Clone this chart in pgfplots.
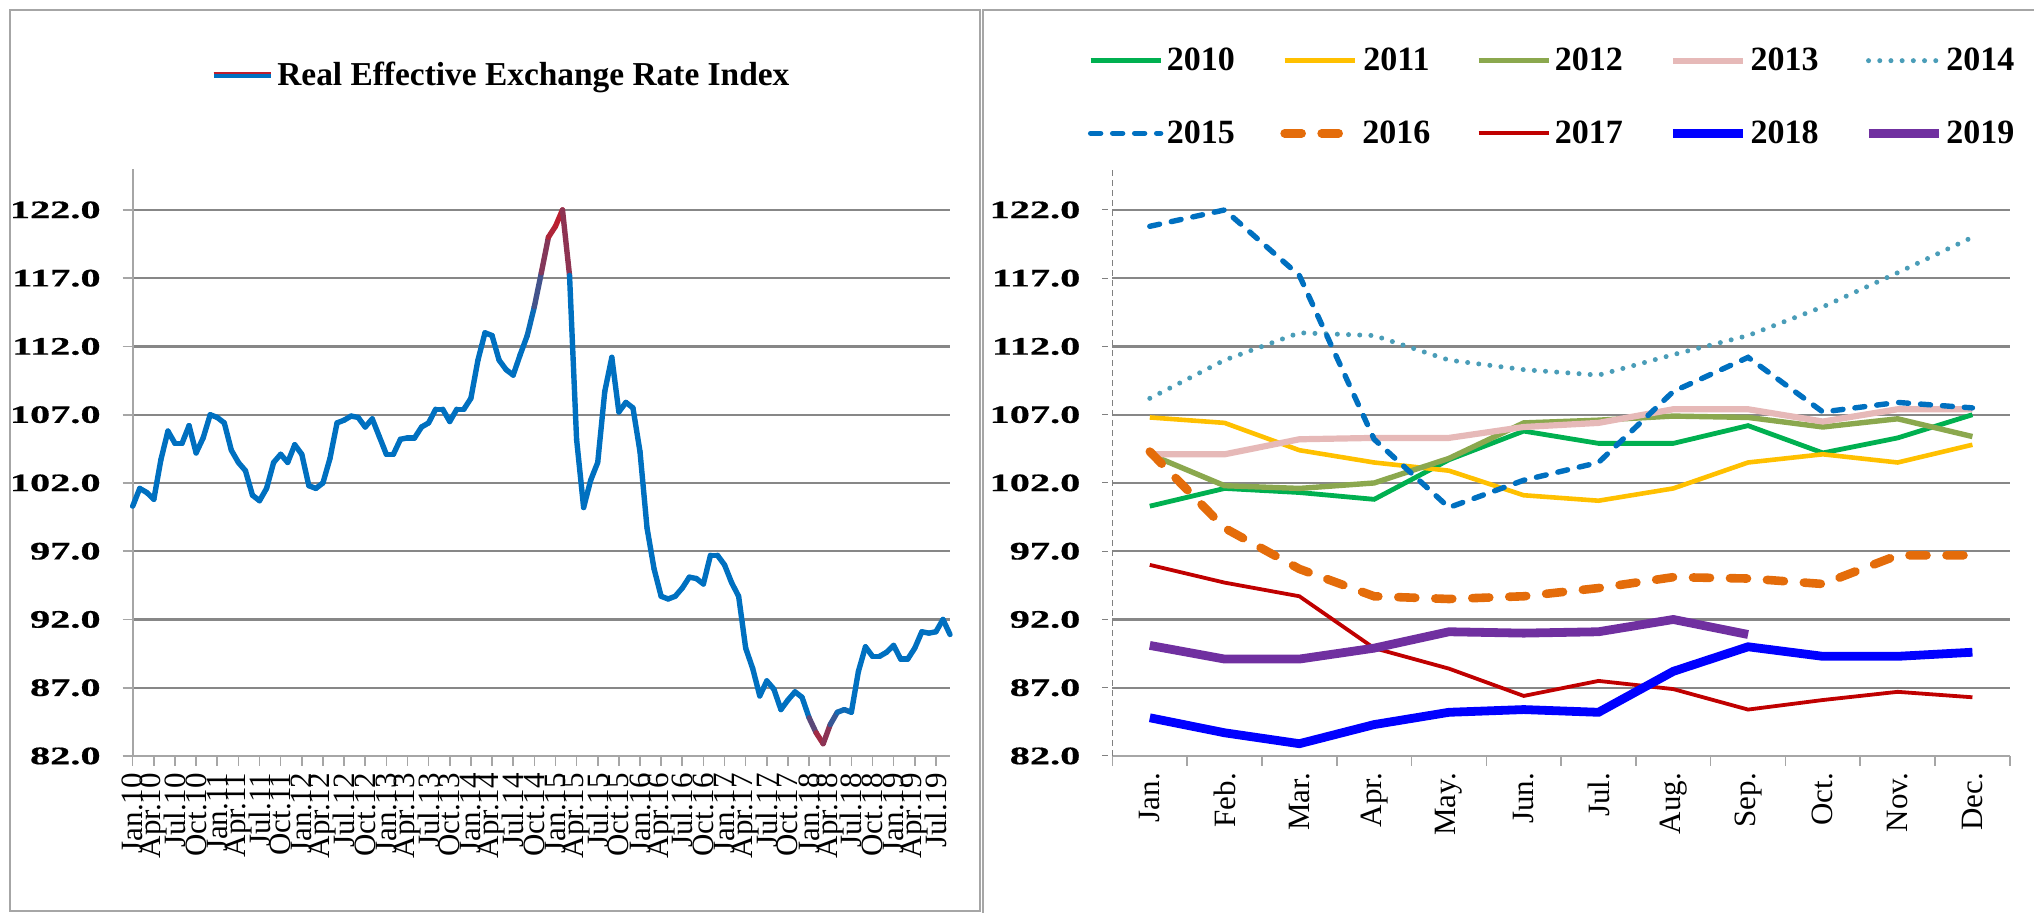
\documentclass[border=0pt]{standalone}
\usepackage{fontspec}
\setmainfont{Liberation Serif}
\newfontfamily\ytfont[FakeStretch=1.6,FakeBold=0.6]{Liberation Serif}
\usepackage{pgfplots}
\pgfplotsset{compat=1.18}
\usepackage{pgfplotstable}

\definecolor{c2010}{HTML}{00B050}
\definecolor{c2011}{HTML}{FFC000}
\definecolor{c2012}{HTML}{8BA84E}
\definecolor{c2013}{HTML}{E6B9B8}
\definecolor{c2014}{HTML}{4A9DB8}
\definecolor{c2015}{HTML}{0070C0}
\definecolor{c2016}{HTML}{E46C0A}
\definecolor{c2017}{HTML}{C00000}
\definecolor{c2018}{HTML}{0000FF}
\definecolor{c2019}{HTML}{7030A0}
\definecolor{cred}{RGB}{190,30,45}
\definecolor{frame}{HTML}{A6A6A6}
\definecolor{gridc}{HTML}{878787}

\pgfplotstableread{
m y10 y11 y12 y13 y14 y15 y16 y17 y18 y19
1 100.3 106.8 104.1 104.1 108.2 120.8 104.3 96.0 84.8 90.1
2 101.6 106.4 101.8 104.1 111.0 122.0 98.7 94.7 83.7 89.1
3 101.3 104.4 101.6 105.2 113.0 117.2 95.7 93.7 82.9 89.1
4 100.8 103.5 102.0 105.3 112.8 105.2 93.7 89.9 84.3 89.9
5 103.7 102.9 103.8 105.3 111.0 100.2 93.5 88.4 85.2 91.1
6 105.8 101.1 106.4 106.1 110.3 102.2 93.7 86.4 85.4 91.0
7 104.9 100.7 106.6 106.4 109.9 103.5 94.3 87.5 85.2 91.1
8 104.9 101.6 106.9 107.4 111.4 108.7 95.1 86.9 88.2 92.0
9 106.2 103.5 106.8 107.4 112.8 111.2 95.0 85.4 90.0 90.9
10 104.2 104.1 106.1 106.5 114.9 107.2 94.6 86.1 89.3 nan
11 105.3 103.5 106.7 107.4 117.4 107.9 96.7 86.7 89.3 nan
12 107.0 104.8 105.4 107.4 120.0 107.5 96.7 86.3 89.6 nan
}\monthly

\pgfplotsset{
  reerbase/.style={
    scale only axis, height=293.5pt,
    ymin=82, ymax=125,
    axis lines=left,
    axis line style={-, draw=frame, line width=0.9pt},
    ytick={82,87,...,122},
    yticklabels={82.0,87.0,92.0,97.0,102.0,107.0,112.0,117.0,122.0},
    yticklabel style={font=\ytfont\bfseries\fontsize{12.6}{14}\selectfont, xshift=-7.5pt},
    ymajorgrids,
    grid style={draw=gridc, line width=1.1pt},
    tick align=outside,
    major tick length=5pt,
    minor tick length=5pt,
    tick style={draw=frame, line width=0.8pt},
    xticklabel style={rotate=90, anchor=east, font=\fontsize{15.5}{15.5}\selectfont},
    clip=false,
  }
}

\begin{document}
\begin{tikzpicture}
\useasboundingbox (0pt,0pt) rectangle (1017pt,456.5pt);
\draw[frame, line width=1pt] (5pt,1pt) rectangle (490pt,451.5pt);
\draw[frame, line width=1pt] (491.5pt,-2pt) -- (491.5pt,451.5pt) -- (1020pt,451.5pt);

% ---------------- left panel ----------------
\begin{axis}[reerbase,
  at={(66.35pt,78.5pt)}, anchor=south west,
  width=408.65pt,
  xmin=0, xmax=116,
  xtick={0,3,...,114},
  xticklabels={Jan.10,Apr.10,Jul.10,Oct.10,Jan.11,Apr.11,Jul.11,Oct.11,Jan.12,Apr.12,Jul.12,Oct.12,Jan.13,Apr.13,Jul.13,Oct.13,Jan.14,Apr.14,Jul.14,Oct.14,Jan.15,Apr.15,Jul.15,Oct.15,Jan.16,Apr.16,Jul.16,Oct.16,Jan.17,Apr.17,Jul.17,Oct.17,Jan.18,Apr.18,Jul.18,Oct.18,Jan.19,Apr.19,Jul.19},
  colormap={reer}{rgb255(0cm)=(190,30,45) rgb255(2.6cm)=(0,112,192) rgb255(30.6cm)=(0,112,192) rgb255(38.1cm)=(190,30,45)},
  point meta min=82.9, point meta max=121,
  legend style={at={(axis description cs:0.0946,1.16)}, anchor=west, draw=none, fill=none,
    font=\bfseries\fontsize{16.7}{20}\selectfont, inner sep=0pt, nodes={inner sep=1.75pt}},
]
\addplot[mesh, point meta=y, line width=2.7pt, line cap=round, forget plot] coordinates {
(0,100.3)(1,101.6)(2,101.3)(3,100.8)(4,103.7)(5,105.8)(6,104.9)(7,104.9)(8,106.2)(9,104.2)(10,105.3)(11,107.0)
(12,106.8)(13,106.4)(14,104.4)(15,103.5)(16,102.9)(17,101.1)(18,100.7)(19,101.6)(20,103.5)(21,104.1)(22,103.5)(23,104.8)
(24,104.1)(25,101.8)(26,101.6)(27,102.0)(28,103.8)(29,106.4)(30,106.6)(31,106.9)(32,106.8)(33,106.1)(34,106.7)(35,105.4)
(36,104.1)(37,104.1)(38,105.2)(39,105.3)(40,105.3)(41,106.1)(42,106.4)(43,107.4)(44,107.4)(45,106.5)(46,107.4)(47,107.4)
(48,108.2)(49,111.0)(50,113.0)(51,112.8)(52,111.0)(53,110.3)(54,109.9)(55,111.4)(56,112.8)(57,114.9)(58,117.4)(59,120.0)
(60,120.8)(61,122.0)(62,117.2)(63,105.2)(64,100.2)(65,102.2)(66,103.5)(67,108.7)(68,111.2)(69,107.2)(70,107.9)(71,107.5)
(72,104.3)(73,98.7)(74,95.7)(75,93.7)(76,93.5)(77,93.7)(78,94.3)(79,95.1)(80,95.0)(81,94.6)(82,96.7)(83,96.7)
(84,96.0)(85,94.7)(86,93.7)(87,89.9)(88,88.4)(89,86.4)(90,87.5)(91,86.9)(92,85.4)(93,86.1)(94,86.7)(95,86.3)
(96,84.8)(97,83.7)(98,82.9)(99,84.3)(100,85.2)(101,85.4)(102,85.2)(103,88.2)(104,90.0)(105,89.3)(106,89.3)(107,89.6)
(108,90.1)(109,89.1)(110,89.1)(111,89.9)(112,91.1)(113,91.0)(114,91.1)(115,92.0)(116,90.9)
};
\addlegendimage{legend image code/.code={
  \draw[line width=3.2pt, c2015] (0pt,0pt) -- (28.5pt,0pt);
  \draw[line width=1.1pt, cred] (0pt,1.1pt) -- (28.5pt,1.1pt);}}
\addlegendentry{Real Effective Exchange Rate Index}
\end{axis}

% ---------------- right panel ----------------
\begin{axis}[reerbase,
  at={(556.2pt,78.5pt)}, anchor=south west,
  width=448.7pt,
  xmin=0.5, xmax=12.5,
  xtick={1,...,12},
  xticklabels={Jan.,Feb.,Mar.,Apr.,May.,Jun.,Jul.,Aug.,Sep.,Oct.,Nov.,Dec.},
  major x tick style={draw=none},
  minor xtick={0.5,1.5,...,12.5},
  y axis line style={densely dashed, draw=gray, line width=0.5pt},
  ytick style={densely dashed, draw=gray, line width=0.5pt},
  legend columns=5,
  legend image code/.code={\draw[#1] (0pt,0pt) -- (35pt,0pt);},
  legend style={at={(axis description cs:-0.0277,1.1227)}, anchor=west, draw=none, fill=none,
    font=\bfseries\fontsize{17}{20}\selectfont, inner sep=0pt, row sep=20pt,
    nodes={inner sep=1.75pt},
    /tikz/every even column/.append style={column sep=21pt}},
]
\addplot[c2010, line width=2.4pt] table[x=m,y=y10]{\monthly};
\addlegendentry{2010}
\addplot[c2011, line width=2.3pt] table[x=m,y=y11]{\monthly};
\addlegendentry{2011}
\addplot[c2012, line width=2.7pt] table[x=m,y=y12]{\monthly};
\addlegendentry{2012}
\addplot[c2013, line width=3.1pt] table[x=m,y=y13]{\monthly};
\addlegendentry{2013}
\addplot[c2014, line width=2.5pt, line cap=round, dash pattern=on 0pt off 5.6pt] table[x=m,y=y14]{\monthly};
\addlegendentry{2014}
\addplot[c2015, line width=2.7pt, line cap=round, dash pattern=on 5pt off 6pt] table[x=m,y=y15]{\monthly};
\addlegendentry{2015}
\addplot[c2016, line width=4.3pt, line cap=round, dash pattern=on 8.5pt off 10pt] table[x=m,y=y16]{\monthly};
\addlegendentry{2016}
\addplot[c2017, line width=1.9pt] table[x=m,y=y17]{\monthly};
\addlegendentry{2017}
\addplot[c2018, line width=4.4pt] table[x=m,y=y18]{\monthly};
\addlegendentry{2018}
\addplot[c2019, line width=4.4pt] table[x=m,y=y19]{\monthly};
\addlegendentry{2019}
\end{axis}
\end{tikzpicture}
\end{document}
